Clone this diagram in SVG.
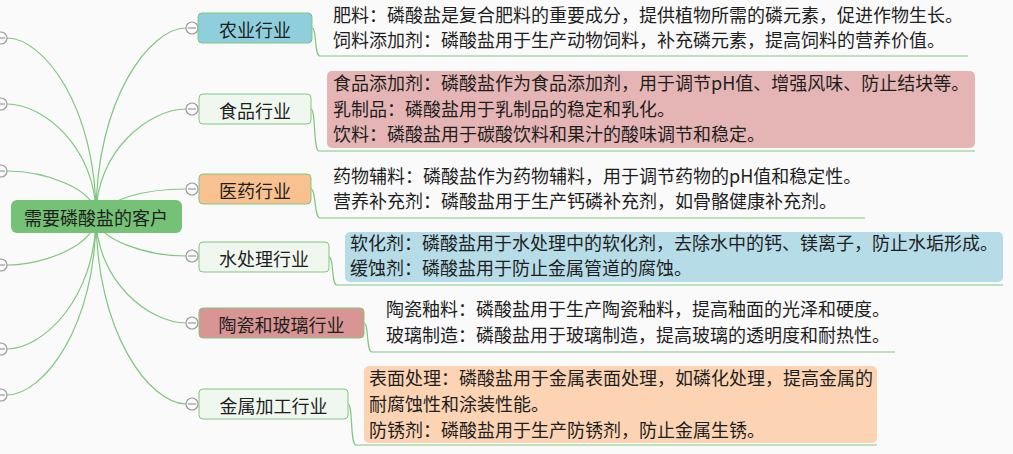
<svg xmlns="http://www.w3.org/2000/svg" width="1013" height="454" viewBox="0 0 1013 454">
<style>
.bg{fill:#fafafa}
.ln{fill:none;stroke:#80c680;stroke-width:1.2}
.node{stroke:#80c680;stroke-width:1}
.t{font-family:"Noto Sans CJK SC","Microsoft YaHei",sans-serif;font-size:18px;fill:#1e1e1e}
.c{text-anchor:middle}
.col circle{fill:#fafafa;stroke:#9a9a9a;stroke-width:1.2}
.col path{stroke:#9a9a9a;stroke-width:1.2}
</style>
<rect class="bg" x="0" y="0" width="1013" height="454"/>
<g id="connectors">
<path class="ln" d="M96,216 C96,99 150,28 186,28"/>
<path class="ln" d="M96,216 C96,150 150,109 186,109"/>
<path class="ln" d="M96,216 C110,200 140,189 186,189"/>
<path class="ln" d="M96,216 C96,241 150,256 186,256"/>
<path class="ln" d="M96,216 C96,282 150,323 186,323"/>
<path class="ln" d="M96,216 C96,333 150,404 186,404"/>
<path class="ln" d="M96,216 C96,106 43,38 7,38"/>
<path class="ln" d="M96,216 C96,147 43,104 7,104"/>
<path class="ln" d="M96,216 C96,188 43,171 7,171"/>
<path class="ln" d="M96,216 C96,246 43,265 7,265"/>
<path class="ln" d="M96,216 C96,298 43,349 7,349"/>
<path class="ln" d="M96,216 C96,327 43,395 7,395"/>
<path class="ln" d="M312,28 C317,28 314,56 320,56 H968"/>
<path class="ln" d="M311,109 C316,109 313,151 319,151 H975"/>
<path class="ln" d="M311,189 C316,189 314,218 320,218 H865"/>
<path class="ln" d="M329,257 C334,257 331,285 337,285 H1003"/>
<path class="ln" d="M364,323 C369,323 366,352 372,352 H895"/>
<path class="ln" d="M348,404 C353,404 350,445 356,445 H877"/>
</g>
<g id="collapse-markers" class="col">
<circle cx="1" cy="38" r="6"/><path d="M-3,38 H5"/>
<circle cx="1" cy="104" r="6"/><path d="M-3,104 H5"/>
<circle cx="1" cy="171" r="6"/><path d="M-3,171 H5"/>
<circle cx="1" cy="265" r="6"/><path d="M-3,265 H5"/>
<circle cx="1" cy="349" r="6"/><path d="M-3,349 H5"/>
<circle cx="1" cy="395" r="6"/><path d="M-3,395 H5"/>
<circle cx="192" cy="28" r="6"/><path d="M188,28 H196"/>
<circle cx="192" cy="109" r="6"/><path d="M188,109 H196"/>
<circle cx="192" cy="189" r="6"/><path d="M188,189 H196"/>
<circle cx="192" cy="256" r="6"/><path d="M188,256 H196"/>
<circle cx="192" cy="323" r="6"/><path d="M188,323 H196"/>
<circle cx="192" cy="404" r="6"/><path d="M188,404 H196"/>
</g>
<g id="root">
<rect x="11" y="200" width="171" height="33" rx="6" fill="#75c175"/>
<text class="t c" x="96" y="225">需要磷酸盐的客户</text>
</g>
<g id="agri">
<rect class="node" x="198" y="13" width="114" height="30" rx="4" fill="#8fcedc"/>
<text class="t c" x="255" y="36.5">农业行业</text>
<text class="t" x="333" y="22">肥料：磷酸盐是复合肥料的重要成分，提供植物所需的磷元素，促进作物生长。</text>
<text class="t" x="333" y="47">饲料添加剂：磷酸盐用于生产动物饲料，补充磷元素，提高饲料的营养价值。</text>
</g>
<g id="food">
<rect class="node" x="199" y="94" width="112" height="30" rx="4" fill="#f0f7ef"/>
<text class="t c" x="255" y="117.5">食品行业</text>
<rect x="327" y="71" width="648" height="77" rx="5" fill="#e5b5b5"/>
<text class="t" x="333" y="90">食品添加剂：磷酸盐作为食品添加剂，用于调节pH值、增强风味、防止结块等。</text>
<text class="t" x="333" y="115.5">乳制品：磷酸盐用于乳制品的稳定和乳化。</text>
<text class="t" x="333" y="141">饮料：磷酸盐用于碳酸饮料和果汁的酸味调节和稳定。</text>
</g>
<g id="medical">
<rect class="node" x="199" y="174" width="112" height="30" rx="4" fill="#f9c18f"/>
<text class="t c" x="255" y="197.5">医药行业</text>
<text class="t" x="333" y="183">药物辅料：磷酸盐作为药物辅料，用于调节药物的pH值和稳定性。</text>
<text class="t" x="333" y="208">营养补充剂：磷酸盐用于生产钙磷补充剂，如骨骼健康补充剂。</text>
</g>
<g id="water">
<rect class="node" x="199" y="242" width="130" height="30" rx="4" fill="#f0f7ef"/>
<text class="t c" x="264" y="265.5">水处理行业</text>
<rect x="345" y="232" width="658" height="50" rx="5" fill="#b6dce8"/>
<text class="t" x="350" y="250">软化剂：磷酸盐用于水处理中的软化剂，去除水中的钙、镁离子，防止水垢形成。</text>
<text class="t" x="350" y="275">缓蚀剂：磷酸盐用于防止金属管道的腐蚀。</text>
</g>
<g id="ceramic">
<rect class="node" x="199" y="308" width="165" height="30" rx="4" fill="#d99494"/>
<text class="t c" x="281.5" y="331.5">陶瓷和玻璃行业</text>
<text class="t" x="386" y="316">陶瓷釉料：磷酸盐用于生产陶瓷釉料，提高釉面的光泽和硬度。</text>
<text class="t" x="386" y="342">玻璃制造：磷酸盐用于玻璃制造，提高玻璃的透明度和耐热性。</text>
</g>
<g id="metal">
<rect class="node" x="199" y="389" width="149" height="30" rx="4" fill="#f0f7ef"/>
<text class="t c" x="273.5" y="412.5">金属加工行业</text>
<rect x="364" y="366" width="513" height="77" rx="5" fill="#fcd4b4"/>
<text class="t" x="369" y="385">表面处理：磷酸盐用于金属表面处理，如磷化处理，提高金属的</text>
<text class="t" x="369" y="411">耐腐蚀性和涂装性能。</text>
<text class="t" x="369" y="437">防锈剂：磷酸盐用于生产防锈剂，防止金属生锈。</text>
</g>
</svg>
